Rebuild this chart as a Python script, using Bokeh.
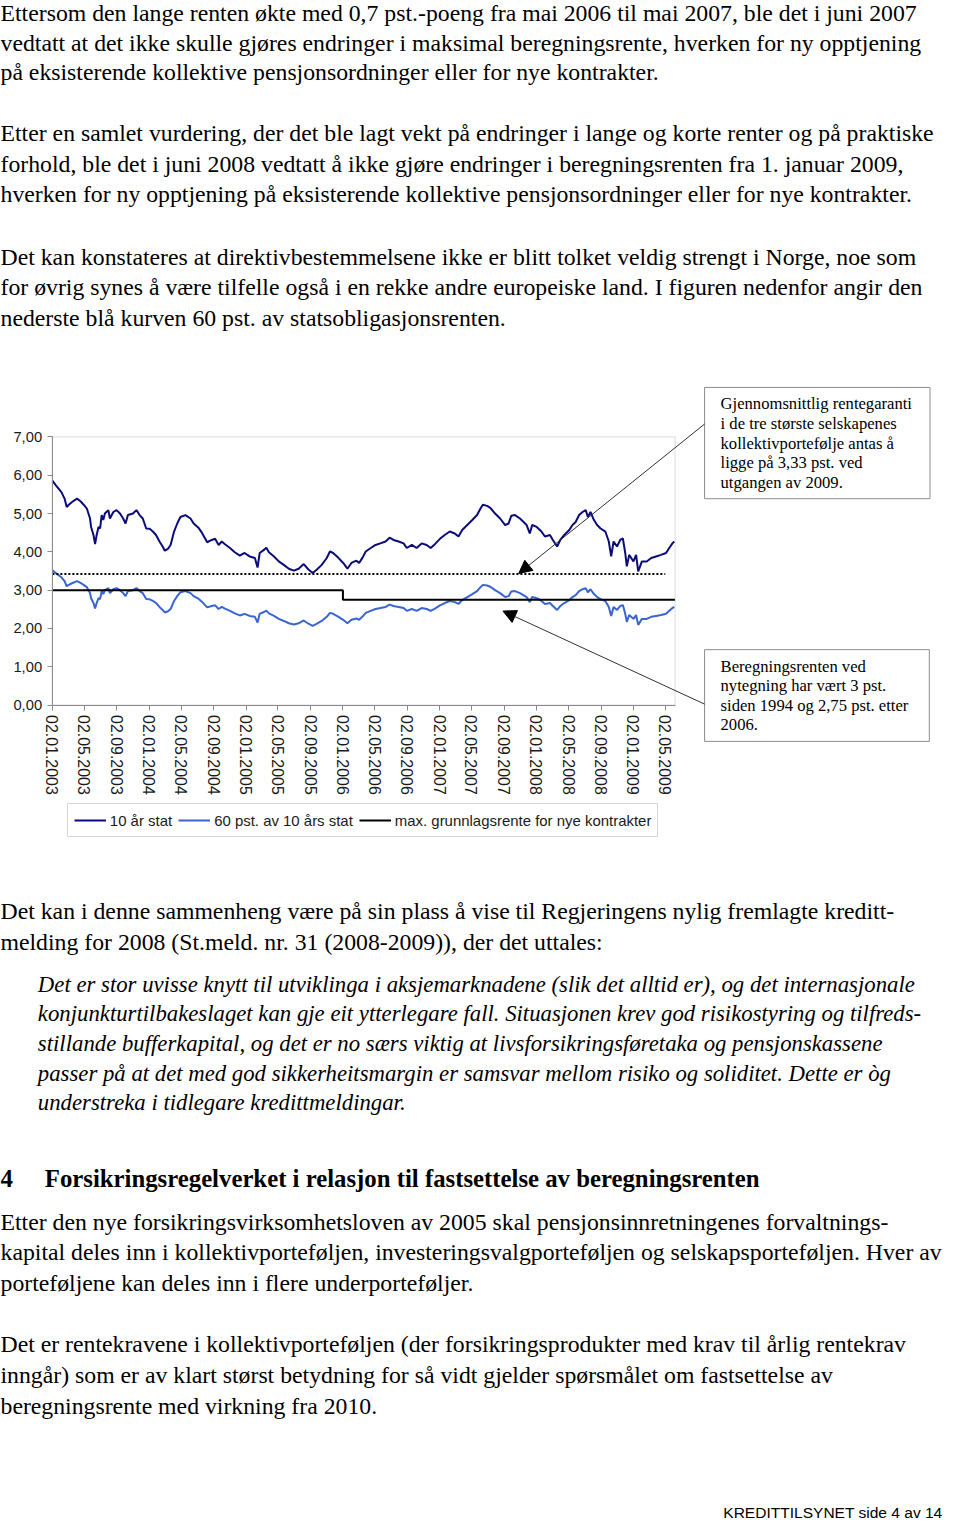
import pandas as pd
from bokeh.plotting import figure
from bokeh.models import (Range1d, FixedTicker, DatetimeTickFormatter, Label, Arrow,
                          NormalHead, Legend, LegendItem, DatetimeAxis, LinearAxis,
                          BoxAnnotation)
from bokeh.core.properties import value
from bokeh.embed import file_html
from bokeh.resources import INLINE

# ---------------------------------------------------------------- data
dates = [
    "2003-01-02", "2003-01-16", "2003-02-05", "2003-02-17", "2003-02-25", "2003-03-05", "2003-03-17",
    "2003-04-05", "2003-04-18", "2003-04-30", "2003-05-12", "2003-05-24", "2003-05-28", "2003-06-06",
    "2003-06-12", "2003-06-18", "2003-06-25", "2003-07-01", "2003-07-07", "2003-07-13", "2003-07-19",
    "2003-08-01", "2003-08-07", "2003-08-20", "2003-09-01", "2003-09-14", "2003-09-26", "2003-10-05",
    "2003-10-14", "2003-11-02", "2003-11-15", "2003-11-27", "2003-12-09", "2003-12-22", "2004-01-04",
    "2004-01-16", "2004-01-28", "2004-02-10", "2004-02-22", "2004-03-01", "2004-03-13", "2004-03-23",
    "2004-04-05", "2004-04-17", "2004-04-29", "2004-05-18", "2004-06-06", "2004-06-18", "2004-07-07",
    "2004-07-19", "2004-08-08", "2004-08-25", "2004-09-07", "2004-09-20", "2004-10-02", "2004-10-14",
    "2004-11-02", "2004-11-20", "2004-12-09", "2004-12-27", "2005-01-15", "2005-02-04", "2005-02-14",
    "2005-02-22", "2005-03-10", "2005-03-19", "2005-03-29", "2005-04-17", "2005-05-05", "2005-05-24",
    "2005-06-12", "2005-07-01", "2005-07-19", "2005-08-07", "2005-08-25", "2005-09-10", "2005-09-26",
    "2005-10-14", "2005-11-02", "2005-11-14", "2005-11-26", "2005-12-15", "2006-01-03", "2006-01-19",
    "2006-02-03", "2006-02-22", "2006-03-04", "2006-03-17", "2006-03-29", "2006-04-17", "2006-05-05",
    "2006-05-23", "2006-06-12", "2006-06-27", "2006-07-12", "2006-07-31", "2006-08-19", "2006-08-31",
    "2006-09-19", "2006-10-07", "2006-10-26", "2006-11-14", "2006-11-29", "2006-12-15", "2007-01-03",
    "2007-01-21", "2007-02-09", "2007-02-28", "2007-03-14", "2007-03-28", "2007-04-16", "2007-05-05",
    "2007-05-23", "2007-06-05", "2007-06-14", "2007-06-30", "2007-07-12", "2007-07-30", "2007-08-18",
    "2007-09-06", "2007-09-19", "2007-09-29", "2007-10-13", "2007-11-01", "2007-11-26", "2007-12-08",
    "2007-12-17", "2008-01-03", "2008-01-21", "2008-02-03", "2008-02-22", "2008-03-04", "2008-03-20",
    "2008-04-01", "2008-04-16", "2008-05-05", "2008-05-17", "2008-05-29", "2008-06-11", "2008-06-24",
    "2008-07-06", "2008-07-14", "2008-07-24", "2008-08-06", "2008-08-18", "2008-08-31", "2008-09-18",
    "2008-10-01", "2008-10-10", "2008-10-19", "2008-11-01", "2008-11-13", "2008-11-23", "2008-12-02",
    "2008-12-08", "2008-12-17", "2009-01-02", "2009-01-12", "2009-01-20", "2009-02-03", "2009-02-21",
    "2009-03-10", "2009-03-28", "2009-04-16", "2009-05-05", "2009-05-17", "2009-05-29", "2009-06-05",
]
ten_year = [
    5.86, 5.73, 5.56, 5.39, 5.17, 5.23, 5.30,
    5.39, 5.32, 5.23, 5.13, 4.87, 4.65, 4.44,
    4.20, 4.44, 4.65, 4.61, 4.96, 4.83, 5.00,
    5.09, 4.87, 5.04, 5.09, 5.00, 4.87, 4.74,
    4.96, 5.00, 5.09, 4.96, 4.87, 4.61, 4.60,
    4.53, 4.44, 4.27, 4.14, 4.03, 4.08, 4.18,
    4.53, 4.74, 4.91, 4.96, 4.87, 4.74, 4.62,
    4.50, 4.25, 4.31, 4.34, 4.18, 4.27, 4.20,
    4.10, 3.99, 3.90, 3.97, 3.88, 3.84, 3.59,
    3.97, 4.05, 4.11, 3.99, 3.88, 3.75, 3.66,
    3.56, 3.51, 3.56, 3.68, 3.54, 3.45, 3.54,
    3.66, 3.84, 4.01, 3.97, 3.85, 3.71, 3.56,
    3.71, 3.77, 3.71, 3.85, 4.01, 4.10, 4.18,
    4.22, 4.27, 4.37, 4.31, 4.27, 4.22, 4.10,
    4.18, 4.10, 4.22, 4.18, 4.10, 4.20, 4.34,
    4.44, 4.53, 4.48, 4.40, 4.57, 4.70, 4.83,
    4.96, 5.13, 5.23, 5.20, 5.15, 5.00, 4.87,
    4.70, 4.74, 4.94, 4.96, 4.87, 4.70, 4.48,
    4.70, 4.65, 4.53, 4.40, 4.44, 4.31, 4.14,
    4.31, 4.44, 4.57, 4.70, 4.78, 4.96, 5.04,
    5.09, 4.91, 5.04, 4.83, 4.70, 4.61, 4.53,
    4.27, 3.88, 4.27, 4.14, 4.31, 4.35, 3.97,
    3.62, 3.92, 3.75, 3.92, 3.49, 3.75, 3.75,
    3.84, 3.88, 3.92, 3.97, 4.10, 4.22, 4.27,
]
# the second series is, by its definition in the legend, 60 % of the 10-year yield
sixty_pct = [round(0.6 * v, 3) for v in ten_year]

max_rate_dates = ["2003-01-02", "2006-01-02", "2009-06-08"]
max_rate = [3.00, 2.75, 2.75]

guarantee_dates = ["2003-01-02", "2009-05-02"]
guarantee = [3.42, 3.42]

x_tick_labels = ["02.01.2003", "02.05.2003", "02.09.2003", "02.01.2004", "02.05.2004",
                 "02.09.2004", "02.01.2005", "02.05.2005", "02.09.2005", "02.01.2006",
                 "02.05.2006", "02.09.2006", "02.01.2007", "02.05.2007", "02.09.2007",
                 "02.01.2008", "02.05.2008", "02.09.2008", "02.01.2009", "02.05.2009"]
y_ticks = [0, 1, 2, 3, 4, 5, 6, 7]
y_tick_labels = ["0,00", "1,00", "2,00", "3,00", "4,00", "5,00", "6,00", "7,00"]

series_names = ["10 år stat", "60 pst. av 10 års stat", "max. grunnlagsrente for nye kontrakter"]

box1_text = ["Gjennomsnittlig rentegaranti", "i de tre største selskapenes",
             "kollektivportefølje antas å", "ligge på 3,33 pst. ved", "utgangen av 2009."]
box2_text = ["Beregningsrenten ved", "nytegning har vært 3 pst.",
             "siden 1994 og 2,75 pst. etter", "2006."]

p1 = ["Ettersom den lange renten økte med 0,7 pst.-poeng fra mai 2006 til mai 2007, ble det i juni 2007",
      "vedtatt at det ikke skulle gjøres endringer i maksimal beregningsrente, hverken for ny opptjening",
      "på eksisterende kollektive pensjonsordninger eller for nye kontrakter."]
p2 = ["Etter en samlet vurdering, der det ble lagt vekt på endringer i lange og korte renter og på praktiske",
      "forhold, ble det i juni 2008 vedtatt å ikke gjøre endringer i beregningsrenten fra 1. januar 2009,",
      "hverken for ny opptjening på eksisterende kollektive pensjonsordninger eller for nye kontrakter."]
p3 = ["Det kan konstateres at direktivbestemmelsene ikke er blitt tolket veldig strengt i Norge, noe som",
      "for øvrig synes å være tilfelle også i en rekke andre europeiske land. I figuren nedenfor angir den",
      "nederste blå kurven 60 pst. av statsobligasjonsrenten."]
p4 = ["Det kan i denne sammenheng være på sin plass å vise til Regjeringens nylig fremlagte kreditt-",
      "melding for 2008 (St.meld. nr. 31 (2008-2009)), der det uttales:"]
quote = ["Det er stor uvisse knytt til utviklinga i aksjemarknadene (slik det alltid er), og det internasjonale",
         "konjunkturtilbakeslaget kan gje eit ytterlegare fall. Situasjonen krev god risikostyring og tilfreds-",
         "stillande bufferkapital, og det er no særs viktig at livsforsikringsføretaka og pensjonskassene",
         "passer på at det med god sikkerheitsmargin er samsvar mellom risiko og soliditet. Dette er òg",
         "understreka i tidlegare kredittmeldingar."]
heading_no = "4"
heading = "Forsikringsregelverket i relasjon til fastsettelse av beregningsrenten"
p5 = ["Etter den nye forsikringsvirksomhetsloven av 2005 skal pensjonsinnretningenes forvaltnings-",
      "kapital deles inn i kollektivporteføljen, investeringsvalgporteføljen og selskapsporteføljen. Hver av",
      "porteføljene kan deles inn i flere underporteføljer."]
p6 = ["Det er rentekravene i kollektivporteføljen (der forsikringsprodukter med krav til årlig rentekrav",
      "inngår) som er av klart størst betydning for så vidt gjelder spørsmålet om fastsettelse av",
      "beregningsrente med virkning fra 2010."]
footer = "KREDITTILSYNET side 4 av 14"

# ---------------------------------------------------------------- page geometry
PAGE_W, PAGE_H = 960, 1537          # reference page, in reference pixels
W, H = 944, 1521                    # available drawing size
S = W / PAGE_W                      # font scale
SERIF = "Liberation Serif"
SANS = "Liberation Sans"
BODY = 24.15
QUOTE = 23.15
HEAD = 25.2

# chart plot area on the page and its data bounds
PL, PR, PT, PB = 52.5, 686.0, 441.0, 712.0
X_START, X_END = pd.Timestamp("2003-01-01"), pd.Timestamp("2009-06-08")
Y_MIN, Y_MAX = 0.0, 7.0

t_per_px = (X_END - X_START) / (PR - PL)
v_per_px = (Y_MAX - Y_MIN) / (PB - PT)
date_range = Range1d(X_START - t_per_px * PL, X_END + t_per_px * (PAGE_W - PR))
val_range = Range1d(Y_MIN - v_per_px * (PAGE_H - PB), Y_MAX + v_per_px * PT)


def ms(ts):
    return pd.Timestamp(ts).value / 1e6


def fs(px):
    return f"{px * S:.2f}px"


p = figure(width=W, height=H, x_range=Range1d(0, PAGE_W), y_range=Range1d(PAGE_H, 0),
           x_axis_location=None, y_axis_location=None, min_border=0,
           outline_line_color=None, toolbar_location=None, output_backend="svg",
           extra_x_ranges={"date": date_range}, extra_y_ranges={"val": val_range})
p.grid.visible = False


def put_lines(x, y_first, step, lines, style="normal", size=BODY, font=SERIF, align="left"):
    ys = [y_first + i * step for i in range(len(lines))]
    p.text(x=[x] * len(lines), y=ys, text=lines, text_font=value(font),
           text_font_size=value(fs(size)), text_font_style=value(style),
           text_baseline=value("middle"), text_align=value(align), text_color="black")


# ---------------------------------------------------------------- text (line centres)
put_lines(0, 13, 29.5, p1)
put_lines(0, 134, 31, p2)
put_lines(0, 259, 31, p3)
put_lines(0, 920, 31, p4)
put_lines(38, 994, 30, quote, style="italic", size=QUOTE)
put_lines(0, 1190, 31, [heading_no], style="bold", size=HEAD)
put_lines(45, 1190, 31, [heading], style="bold", size=HEAD)
put_lines(0, 1234, 31, p5)
put_lines(0, 1358, 31, p6)
put_lines(958, 1528, 0, [footer], size=15.8, font=SANS, align="right")

# ---------------------------------------------------------------- chart
rng = dict(x_range_name="date", y_range_name="val")
p.add_layout(BoxAnnotation(left=ms(X_START), right=ms(X_END), bottom=Y_MIN, top=Y_MAX,
                           fill_color=None, fill_alpha=0, line_color="#8c8c8c",
                           line_width=1, **rng))

d = pd.to_datetime(dates)
r_ten = p.line(d, ten_year, line_color="#0b0b7a", line_width=2, **rng)
r_sixty = p.line(d, sixty_pct, line_color="#3a64d0", line_width=2, **rng)
r_max = p.step(pd.to_datetime(max_rate_dates), max_rate, mode="after",
               line_color="black", line_width=2, **rng)
p.line(pd.to_datetime(guarantee_dates), guarantee, line_color="black",
       line_width=2, line_dash="2 2", **rng)

tick_ts = pd.to_datetime(x_tick_labels, format="%d.%m.%Y")
fmt = "%d.%m.%Y"
xa = DatetimeAxis(fixed_location=Y_MIN, bounds=(ms(X_START), ms(X_END)),
                  ticker=FixedTicker(ticks=[ms(t) for t in tick_ts]),
                  formatter=DatetimeTickFormatter(days=fmt, months=fmt, years=fmt, hours=fmt,
                                                  hourmin=fmt, minutes=fmt, minsec=fmt,
                                                  seconds=fmt, milliseconds=fmt,
                                                  microseconds=fmt),
                  major_label_orientation="vertical", **rng)
ya = LinearAxis(fixed_location=ms(X_START), bounds=(Y_MIN, Y_MAX),
                ticker=FixedTicker(ticks=y_ticks),
                major_label_overrides={t: lab for t, lab in zip(y_ticks, y_tick_labels)}, **rng)
for ax, size in ((xa, 16.2), (ya, 15)):
    ax.axis_line_color = "#8c8c8c"
    ax.major_tick_line_color = "#8c8c8c"
    ax.major_tick_in = 0
    ax.major_tick_out = 5
    ax.minor_tick_line_color = None
    ax.major_label_text_font = SANS
    ax.major_label_text_font_size = fs(size)
    ax.major_label_text_color = "#1a1a1a"
    ax.major_label_standoff = 5
p.add_layout(xa, "below")
p.add_layout(ya, "left")

legend = Legend(items=[LegendItem(label=series_names[0], renderers=[r_ten]),
                       LegendItem(label=series_names[1], renderers=[r_sixty]),
                       LegendItem(label=series_names[2], renderers=[r_max])],
                orientation="horizontal",
                location=(68 * W / PAGE_W, (PAGE_H - 846) * H / PAGE_H),
                label_text_font=SANS, label_text_font_size=fs(15.2), label_text_color="#1a1a1a",
                glyph_width=32, label_standoff=4, spacing=6, padding=6, margin=0,
                border_line_color="#b0b0b0", border_line_width=1,
                background_fill_color="white", background_fill_alpha=1)
p.add_layout(legend)

# padding given as (left, right, top, bottom)
box_style = dict(anchor="top_left", text_font=SERIF, text_font_size=fs(16.9),
                 text_color="black", text_line_height=1.03, border_line_color="#8c8c8c",
                 border_line_width=1, background_fill_color="white", background_fill_alpha=1)
p.add_layout(Label(x=716, y=391, text="\n".join(box1_text), padding=(16, 18, 7, 7), **box_style))
p.add_layout(Label(x=716, y=656, text="\n".join(box2_text), padding=(16, 21, 7, 7), **box_style))

for (x0, y0, x1, y1) in [(716, 428, 527, 579), (716, 711, 511, 617)]:
    p.add_layout(Arrow(end=NormalHead(size=13, fill_color="black", line_color="black"),
                       x_start=x0, y_start=y0, x_end=x1, y_end=y1,
                       line_color="#303030", line_width=1))

open("out.html", "w").write(file_html(p, INLINE))
